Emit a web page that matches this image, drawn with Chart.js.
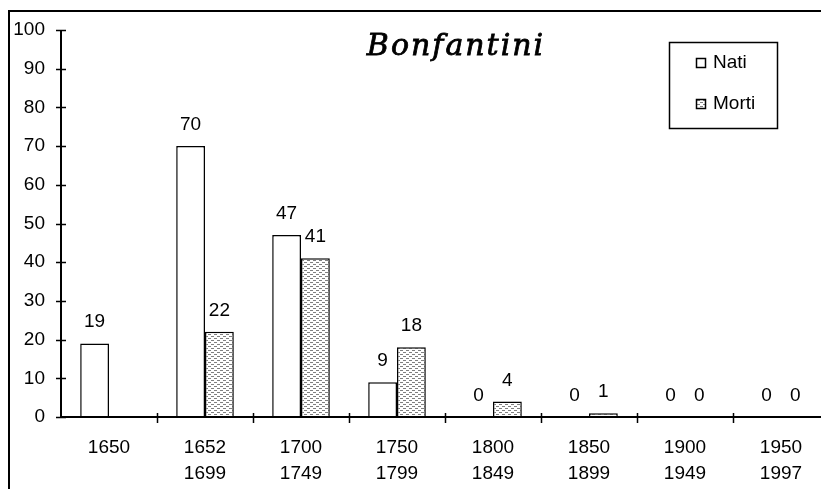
<!DOCTYPE html>
<html><head><meta charset="utf-8">
<script src="https://cdn.jsdelivr.net/npm/chart.js@4.4.0/dist/chart.umd.min.js"></script>
<style>html,body{margin:0;padding:0;overflow:hidden;background:#fff}#wrap{width:860px;height:489px;position:relative}</style>
</head><body><div id="wrap"><canvas id="c" width="860" height="489"></canvas></div>
<script>
const categories = ['1650', ['1652','1699'], ['1700','1749'], ['1750','1799'], ['1800','1849'], ['1850','1899'], ['1900','1949'], ['1950','1997']];
const natiValues = [19, 70, 47, 9, 0, 0, 0, 0];
const mortiValues = [null, 22, 41, 18, 4, 1, 0, 0];
const seriesNames = ['Nati', 'Morti'];
const chartTitle = 'Bonfantini';
const yMin = 0, yMax = 100, yStep = 10;

const FONT = '"Liberation Sans", Arial, sans-serif';

function makePattern() {
  const p = document.createElement('canvas');
  p.width = 6; p.height = 4;
  const g = p.getContext('2d');
  g.fillStyle = '#fff'; g.fillRect(0, 0, 6, 4);
  g.fillStyle = '#808080';
  g.fillRect(1, 0, 3, 1);
  g.fillRect(4, 2, 3, 1);
  g.fillRect(0, 2, 1, 1);
  return g.createPattern(p, 'repeat');
}
const hatch = makePattern();

const decorPlugin = {
  id: 'decor',
  beforeDraw(chart) {
    const ctx = chart.ctx;
    ctx.save();
    ctx.fillStyle = '#fff';
    ctx.fillRect(0, 0, chart.width, chart.height);
    ctx.fillStyle = '#000';
    ctx.fillRect(8, 10, 2, chart.height);
    ctx.fillRect(8, 10, chart.width, 2);
    ctx.restore();
  },
  afterDatasetsDraw(chart) {
    const ctx = chart.ctx;
    ctx.save();
    // data labels
    ctx.fillStyle = '#000';
    ctx.font = '19px ' + FONT;
    ctx.textAlign = 'center';
    ctx.textBaseline = 'alphabetic';
    chart.data.datasets.forEach((ds, i) => {
      const meta = chart.getDatasetMeta(i);
      meta.data.forEach((el, j) => {
        const v = ds.data[j];
        if (v === null || v === undefined) return;
        ctx.fillText(String(v), el.x, el.y - 16);
      });
    });
    // axes
    const xs = chart.scales.x, ys = chart.scales.y;
    const y0 = ys.getPixelForValue(0);
    const yTop = ys.getPixelForValue(yMax);
    ctx.strokeStyle = '#000';
    ctx.lineWidth = 2;
    ctx.beginPath();
    ctx.moveTo(xs.left, yTop); ctx.lineTo(xs.left, y0);
    ctx.moveTo(xs.left, y0); ctx.lineTo(chart.width, y0);
    ctx.stroke();
    ctx.lineWidth = 1.5;
    ctx.beginPath();
    for (let v = yMin; v <= yMax; v += yStep) {
      const py = Math.round(ys.getPixelForValue(v)) + 0.5;
      ctx.moveTo(xs.left - 5, py); ctx.lineTo(xs.left + 5, py);
    }
    const n = categories.length;
    const w = (xs.right - xs.left) / n;
    for (let i = 1; i <= n; i++) {
      const px = Math.round(xs.left + i * w) + 0.5;
      ctx.moveTo(px, y0 - 4); ctx.lineTo(px, y0 + 6);
    }
    ctx.stroke();
    // title
    ctx.font = 'italic 30px "DejaVu Serif"';
    ctx.letterSpacing = '2px';
    ctx.textAlign = 'center';
    ctx.lineWidth = 0.8;
    ctx.fillText(chartTitle, 456, 55);
    ctx.strokeText(chartTitle, 456, 55);
    ctx.letterSpacing = '0px';
    // legend
    ctx.lineWidth = 1.5;
    ctx.strokeRect(669.5, 42.5, 108, 86);
    const items = [{y: 63, fill: '#fff'}, {y: 104, fill: hatch}];
    ctx.font = '19px ' + FONT;
    ctx.textAlign = 'left';
    ctx.textBaseline = 'middle';
    chart.data.datasets.forEach((ds, i) => {
      const it = items[i];
      ctx.fillStyle = it.fill;
      ctx.fillRect(696, it.y - 5, 10, 10);
      ctx.lineWidth = 1.5;
      ctx.strokeRect(696.5, it.y - 4.5, 9, 9);
      ctx.fillStyle = '#000';
      ctx.fillText(ds.label, 713, it.y);
    });
    ctx.restore();
  }
};

new Chart(document.getElementById('c'), {
  type: 'bar',
  data: {
    labels: categories,
    datasets: [
      { label: seriesNames[0], data: natiValues, backgroundColor: '#fff', borderColor: '#000', borderWidth: 1.5 },
      { label: seriesNames[1], data: mortiValues, backgroundColor: hatch, borderColor: '#000', borderWidth: 1.5 }
    ]
  },
  options: {
    responsive: false,
    animation: false,
    devicePixelRatio: 1,
    categoryPercentage: 0.6,
    barPercentage: 1,
    layout: { padding: { top: 30, right: 31, left: 0, bottom: 0 } },
    plugins: { legend: { display: false }, tooltip: { enabled: false }, title: { display: false } },
    scales: {
      x: {
        type: 'category',
        offset: true,
        grid: { display: false, drawTicks: false, tickLength: 0 },
        border: { display: false },
        ticks: { color: '#000', font: { family: FONT, size: 19, lineHeight: 1.37 }, padding: 18, maxRotation: 0, autoSkip: false },
        afterFit(s) { s.height = 72; }
      },
      y: {
        min: yMin, max: yMax,
        grid: { display: false, drawTicks: false, tickLength: 0 },
        border: { display: false },
        ticks: { color: '#000', stepSize: yStep, font: { family: FONT, size: 19 }, padding: 16 },
        afterFit(s) { s.width = 61; }
      }
    }
  },
  plugins: [decorPlugin]
});
</script>
</body></html>
